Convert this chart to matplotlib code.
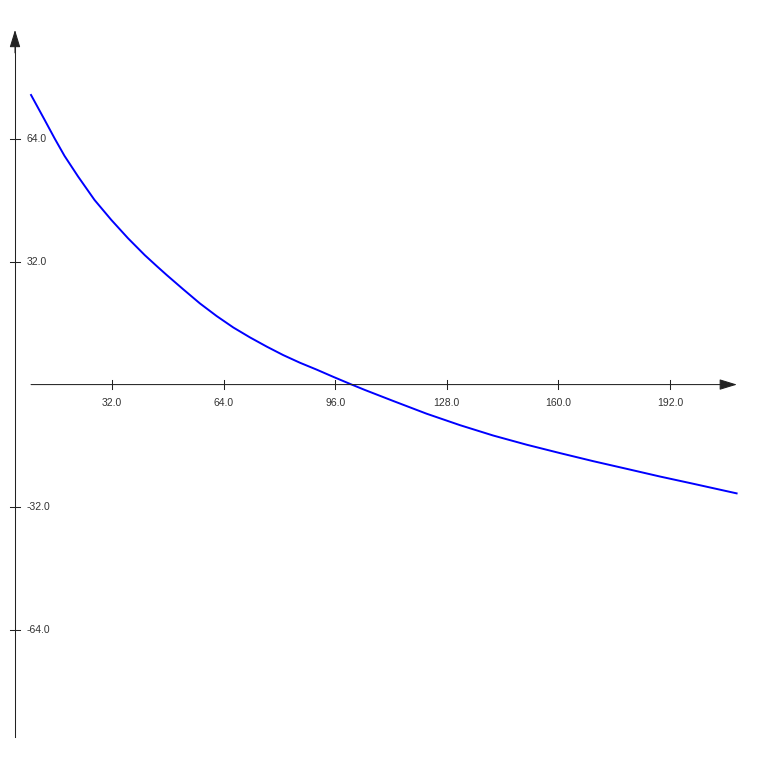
"""
Decaying curve on hand-drawn arrow axes, saved as out.png.
"""
import matplotlib
matplotlib.use("Agg")
import matplotlib.pyplot as plt

# values
curve_x = [8.8, 12.7, 15.6, 18.4, 22.3, 27.0, 31.8, 36.6, 41.4, 45.0,
           47.7, 52.4, 57.2, 62.0, 66.8, 71.6, 76.4, 81.1, 85.9, 90.7,
           95.5, 100.2, 104.5, 112.7, 122.2, 131.8, 141.3, 150.9, 160.5,
           170.0, 179.6, 189.1, 198.7, 211.1]
curve_y = [75.6, 69.1, 64.2, 59.7, 54.3, 48.2, 43.0, 38.2, 33.8, 30.8,
           28.6, 24.9, 21.2, 17.9, 14.9, 12.3, 9.9, 7.7, 5.7, 3.9,
           2.0, 0.2, -1.4, -4.3, -7.6, -10.6, -13.3, -15.7, -17.9,
           -20.0, -22.0, -24.0, -25.9, -28.4]

x_ticks = [32.0, 64.0, 96.0, 128.0, 160.0, 192.0]
y_ticks = [64.0, 32.0, -32.0, -64.0]

# view box and axis placement (data units)
X_LIM = (-0.1, 220.1)
Y_LIM = (-100.1, 100.4)
Y_AXIS_X = 4.2
X_AXIS_START, X_AXIS_END = 8.8, 211.2
Y_AXIS_TOP, Y_AXIS_BOTTOM = 92.6, -92.0

AXIS_COLOR = "#222222"
CURVE_COLOR = "#0000ff"


def arrow(ax, start, end):
    ax.annotate("", xy=end, xytext=start,
                arrowprops=dict(arrowstyle="-|>,head_length=1.08,head_width=0.33",
                                mutation_scale=10, color=AXIS_COLOR, lw=0.75,
                                shrinkA=0, shrinkB=0))


def main():
    fig = plt.figure(figsize=(7.68, 7.68), dpi=100)
    ax = fig.add_axes([0, 0, 1, 1])
    ax.set_xlim(*X_LIM)
    ax.set_ylim(*Y_LIM)
    ax.axis("off")

    # axes with arrowheads
    arrow(ax, (X_AXIS_START, 0), (X_AXIS_END, 0))
    ax.plot([Y_AXIS_X, Y_AXIS_X], [Y_AXIS_BOTTOM, Y_AXIS_TOP - 3], color=AXIS_COLOR, lw=0.75)
    arrow(ax, (Y_AXIS_X, Y_AXIS_TOP - 6), (Y_AXIS_X, Y_AXIS_TOP))

    # x ticks
    for t in x_ticks:
        ax.plot([t, t], [-1.2, 1.2], color=AXIS_COLOR, lw=0.75)
        ax.text(t, -3.6, f"{t:.1f}", ha="center", va="top", fontsize=7.5,
                color="#333333", family="Liberation Sans")

    # y ticks
    for t in y_ticks:
        ax.plot([Y_AXIS_X - 1.4, Y_AXIS_X + 1.4], [t, t], color=AXIS_COLOR, lw=0.75)
        ax.text(Y_AXIS_X + 3.3, t, f"{t:.1f}", ha="left", va="center", fontsize=7.5,
                color="#333333", family="Liberation Sans")

    ax.plot(curve_x, curve_y, color=CURVE_COLOR, lw=1.4, solid_joinstyle="round")

    fig.savefig("out.png", dpi=100)
    plt.close(fig)


if __name__ == "__main__":
    main()
